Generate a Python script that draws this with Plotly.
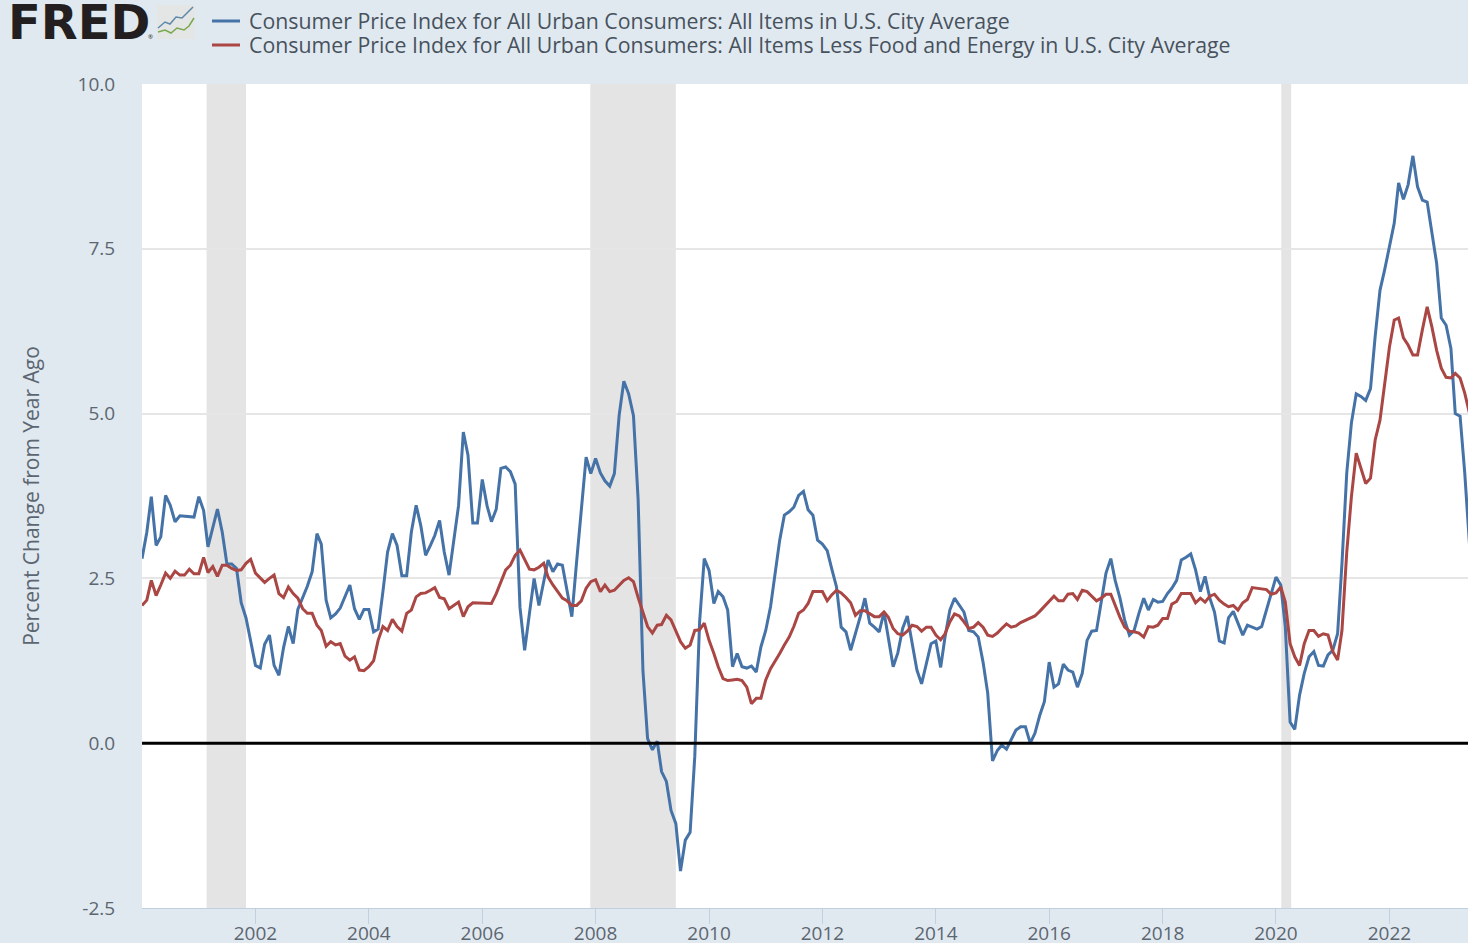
import pandas as pd
import plotly.graph_objects as go

W, H = 1468, 943
L, T, R, B = 142, 84, 1468, 908

months = pd.date_range("2000-01-01", "2023-06-01", freq="MS")

cpi_all = [
    2.80, 3.20, 3.74, 3.00, 3.13, 3.76, 3.61, 3.36, 3.45, 3.44, 3.44, 3.43,
    3.74, 3.53, 2.98, 3.26, 3.55, 3.20, 2.72, 2.72, 2.65, 2.13, 1.90, 1.55,
    1.18, 1.14, 1.50, 1.64, 1.18, 1.03, 1.45, 1.77, 1.51, 2.03, 2.20, 2.38,
    2.60, 3.18, 3.02, 2.17, 1.90, 1.96, 2.05, 2.22, 2.40, 2.04, 1.88, 2.03,
    2.03, 1.69, 1.73, 2.30, 2.90, 3.18, 3.00, 2.54, 2.54, 3.20, 3.61, 3.30,
    2.85, 3.00, 3.15, 3.38, 2.90, 2.55, 3.10, 3.60, 4.72, 4.37, 3.34, 3.34,
    4.00, 3.60, 3.36, 3.55, 4.17, 4.19, 4.12, 3.93, 2.06, 1.41, 1.97, 2.50,
    2.09, 2.47, 2.78, 2.60, 2.72, 2.70, 2.30, 1.92, 2.76, 3.50, 4.34, 4.09,
    4.32, 4.10, 3.98, 3.90, 4.09, 4.98, 5.49, 5.30, 4.97, 3.70, 1.10, 0.07,
    -0.10, 0.03, -0.43, -0.58, -1.02, -1.22, -1.94, -1.47, -1.35, -0.20, 1.84, 2.80,
    2.62, 2.12, 2.30, 2.22, 2.02, 1.16, 1.36, 1.16, 1.14, 1.17, 1.08, 1.46,
    1.71, 2.07, 2.58, 3.08, 3.46, 3.51, 3.58, 3.76, 3.82, 3.54, 3.46, 3.08,
    3.02, 2.92, 2.65, 2.37, 1.76, 1.69, 1.41, 1.66, 1.92, 2.20, 1.82, 1.76,
    1.69, 1.99, 1.61, 1.16, 1.37, 1.74, 1.93, 1.52, 1.11, 0.90, 1.23, 1.51,
    1.55, 1.15, 1.61, 2.02, 2.20, 2.09, 1.99, 1.71, 1.69, 1.61, 1.23, 0.76,
    -0.27, -0.11, -0.03, -0.09, 0.05, 0.20, 0.25, 0.25, 0.00, 0.15, 0.42, 0.63,
    1.23, 0.85, 0.90, 1.20, 1.11, 1.08, 0.85, 1.06, 1.56, 1.70, 1.71, 2.17,
    2.58, 2.80, 2.47, 2.20, 1.87, 1.64, 1.71, 1.97, 2.20, 2.02, 2.18, 2.14,
    2.15, 2.27, 2.35, 2.47, 2.78, 2.82, 2.87, 2.63, 2.30, 2.53, 2.20, 1.99,
    1.55, 1.52, 1.90, 2.00, 1.82, 1.64, 1.79, 1.76, 1.73, 1.77, 2.02, 2.29,
    2.52, 2.40, 1.77, 0.32, 0.21, 0.73, 1.06, 1.31, 1.39, 1.18, 1.17, 1.34,
    1.41, 1.66, 2.72, 4.10, 4.86, 5.30, 5.26, 5.20, 5.38, 6.17, 6.87, 7.18,
    7.53, 7.89, 8.50, 8.25, 8.47, 8.91, 8.44, 8.24, 8.21, 7.78, 7.28, 6.45,
    6.34, 5.99, 5.00, 4.96, 4.10, 3.00,
]

cpi_core = [
    2.09, 2.17, 2.47, 2.24, 2.40, 2.58, 2.50, 2.61, 2.55, 2.55, 2.64, 2.57,
    2.57, 2.82, 2.59, 2.68, 2.53, 2.70, 2.70, 2.65, 2.62, 2.63, 2.73, 2.79,
    2.58, 2.50, 2.44, 2.50, 2.55, 2.27, 2.21, 2.37, 2.27, 2.20, 2.04, 1.97,
    1.97, 1.79, 1.71, 1.47, 1.54, 1.49, 1.51, 1.32, 1.26, 1.31, 1.11, 1.10,
    1.16, 1.25, 1.56, 1.77, 1.71, 1.88, 1.77, 1.70, 1.97, 2.02, 2.22, 2.27,
    2.28, 2.32, 2.36, 2.21, 2.19, 2.04, 2.09, 2.14, 1.92, 2.07, 2.13, 2.13,
    2.13, 2.12, 2.12, 2.27, 2.45, 2.63, 2.70, 2.85, 2.93, 2.78, 2.64, 2.63,
    2.67, 2.73, 2.52, 2.40, 2.30, 2.20, 2.16, 2.09, 2.09, 2.16, 2.35, 2.45,
    2.48, 2.30, 2.40, 2.30, 2.32, 2.40, 2.47, 2.51, 2.45, 2.21, 1.99, 1.77,
    1.67, 1.79, 1.80, 1.94, 1.87, 1.71, 1.54, 1.44, 1.49, 1.71, 1.72, 1.82,
    1.56, 1.36, 1.16, 0.98, 0.95, 0.96, 0.97, 0.95, 0.85, 0.60, 0.68, 0.68,
    0.96, 1.13, 1.23, 1.36, 1.49, 1.61, 1.77, 1.97, 2.02, 2.12, 2.30, 2.30,
    2.30, 2.16, 2.25, 2.32, 2.28, 2.21, 2.13, 1.94, 2.01, 2.01, 1.97, 1.92,
    1.92, 1.99, 1.91, 1.74, 1.66, 1.64, 1.70, 1.79, 1.77, 1.70, 1.76, 1.76,
    1.64, 1.57, 1.66, 1.84, 1.96, 1.93, 1.84, 1.74, 1.76, 1.83, 1.76, 1.64,
    1.62, 1.67, 1.74, 1.81, 1.76, 1.78, 1.83, 1.86, 1.89, 1.93, 2.00, 2.08,
    2.16, 2.23, 2.16, 2.16, 2.26, 2.27, 2.18, 2.32, 2.30, 2.23, 2.16, 2.20,
    2.26, 2.26, 2.09, 1.91, 1.76, 1.70, 1.69, 1.67, 1.61, 1.77, 1.76, 1.79,
    1.89, 1.89, 2.11, 2.15, 2.27, 2.27, 2.27, 2.13, 2.20, 2.14, 2.23, 2.26,
    2.17, 2.11, 2.07, 2.09, 2.02, 2.13, 2.18, 2.36, 2.35, 2.33, 2.33, 2.26,
    2.28, 2.37, 2.14, 1.51, 1.31, 1.18, 1.51, 1.71, 1.71, 1.62, 1.66, 1.64,
    1.39, 1.26, 1.71, 2.90, 3.74, 4.40, 4.19, 3.94, 4.02, 4.60, 4.90, 5.46,
    6.01, 6.42, 6.45, 6.15, 6.04, 5.89, 5.89, 6.27, 6.62, 6.32, 5.96, 5.69,
    5.55, 5.54, 5.61, 5.54, 5.31, 5.00,
]

recessions = [("2001-02-20", "2001-11-01"), ("2007-11-28", "2009-06-01"), ("2020-02-04", "2020-04-08")]
y_ticks = [-2.5, 0.0, 2.5, 5.0, 7.5, 10.0]
x_ticks = [f"{y}-01-01" for y in range(2002, 2024, 2)]
x_labels = [str(y) for y in range(2002, 2024, 2)]
names = [
    "Consumer Price Index for All Urban Consumers: All Items in U.S. City Average",
    "Consumer Price Index for All Urban Consumers: All Items Less Food and Energy in U.S. City Average",
]
BLUE, RED = "#4572a7", "#aa4643"
TXT = "#5c6670"
FONT = "Open Sans"


def px(x):
    return (x - L) / (R - L)


def py(y):
    return (B - y) / (B - T)


fig = go.Figure()
fig.add_trace(go.Scatter(x=months, y=cpi_all, mode="lines", showlegend=False,
                         line=dict(color=BLUE, width=3), name=names[0]))
fig.add_trace(go.Scatter(x=months, y=cpi_core, mode="lines", showlegend=False,
                         line=dict(color=RED, width=3), name=names[1]))

shapes = []
for a, b in recessions:
    shapes.append(dict(type="rect", xref="x", yref="y", x0=a, x1=b, y0=-2.5, y1=10,
                       fillcolor="#e4e4e4", line_width=0, layer="below"))
shapes.append(dict(type="line", xref="x", yref="y", x0=months[0], x1=months[-1], y0=0, y1=0,
                   line=dict(color="#000000", width=3), layer="above"))

annotations = []
# legend rows, drawn as header text with line samples
for name, colour, yy in zip(names, [BLUE, RED], [21, 45]):
    shapes.append(dict(type="line", xref="paper", yref="paper", x0=px(212), x1=px(240),
                       y0=py(yy), y1=py(yy), line=dict(color=colour, width=3)))
    annotations.append(dict(text=name, xref="paper", yref="paper", x=px(247), y=py(yy),
                            xanchor="left", yanchor="middle", showarrow=False,
                            font=dict(family=FONT, size=21.3, color="#47525d")))

# FRED wordmark
annotations.append(dict(text="<b>FRED</b>", xref="paper", yref="paper", x=px(6), y=py(22),
                        xanchor="left", yanchor="middle", showarrow=False,
                        font=dict(family="DejaVu Sans", size=48, color="#231f20")))
annotations.append(dict(text="®", xref="paper", yref="paper", x=px(150), y=py(37),
                        xanchor="center", yanchor="middle", showarrow=False,
                        font=dict(family=FONT, size=6, color="#231f20")))


def path(points):
    return "M " + " L ".join(f"{px(a):.5f},{py(b):.5f}" for a, b in points)


shapes.append(dict(type="rect", xref="paper", yref="paper", x0=px(157), x1=px(195),
                   y0=py(39), y1=py(5), fillcolor="#e4e6e5", line_width=0))
shapes.append(dict(type="path", xref="paper", yref="paper",
                   path=path([(158, 28), (165, 22), (170, 24), (176, 17), (182, 18), (187, 13), (193, 7)]),
                   line=dict(color="#5d8aa8", width=1.5)))
shapes.append(dict(type="path", xref="paper", yref="paper",
                   path=path([(158, 32), (165, 30), (171, 33), (177, 28), (184, 30), (189, 26), (194, 18)]),
                   line=dict(color="#7aa84f", width=1.5)))

fig.update_layout(
    width=W, height=H,
    margin=dict(l=L, r=W - R, t=T, b=H - B, pad=0, autoexpand=False),
    paper_bgcolor="#e1e9f0", plot_bgcolor="#ffffff",
    font=dict(family=FONT, color=TXT, size=18),
    showlegend=False, shapes=shapes, annotations=annotations,
    xaxis=dict(type="date", range=["2000-01-01", "2023-05-22"], tickmode="array",
               tickvals=x_ticks, ticktext=x_labels, ticks="outside", ticklen=15, tickwidth=1,
               ticklabelstandoff=-7,
               tickcolor="#c0d0e0", showgrid=False, showline=True, linecolor="#c0d0e0",
               linewidth=1, zeroline=False, tickfont=dict(family=FONT, size=19, color=TXT)),
    yaxis=dict(range=[-2.5, 10], tickmode="array", tickvals=y_ticks,
               ticktext=[f"{v:.1f}" for v in y_ticks], showgrid=True, gridcolor="#e6e6e6",
               gridwidth=1.5, zeroline=False, showline=False, ticks="outside", ticklen=22,
               tickcolor="rgba(0,0,0,0)", tickfont=dict(family=FONT, size=19, color=TXT),
               title=dict(text="Percent Change from Year Ago", standoff=32,
                          font=dict(family=FONT, size=21, color=TXT))),
)

fig.write_html("out.html", config=dict(displayModeBar=False),
               post_script="document.body.style.margin='0';document.body.style.overflow='hidden';")
